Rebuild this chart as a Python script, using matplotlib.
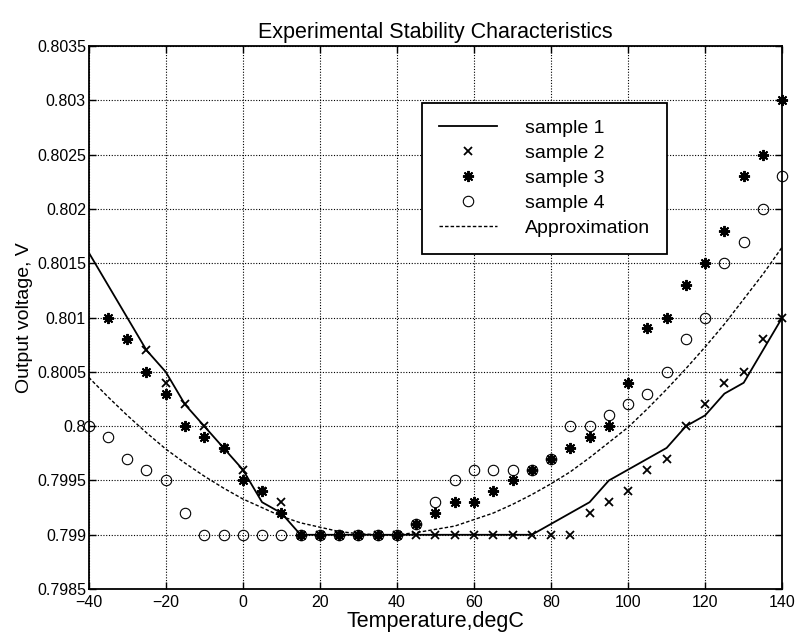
import matplotlib
matplotlib.use("Agg")
import matplotlib.pyplot as plt
from matplotlib.ticker import FuncFormatter

plt.rcParams['font.family'] = ['Liberation Sans', 'DejaVu Sans']

# temperature grid, degC
temps = [-40, -35, -30, -25, -20, -15, -10, -5, 0, 5, 10, 15,
         20, 25, 30, 35, 40, 45, 50, 55, 60, 65, 70, 75,
         80, 85, 90, 95, 100, 105, 110, 115, 120, 125, 130, 135, 140]

# sample 1 (solid line), -40..140
sample1 = [0.8016, 0.8013, 0.8010, 0.8007, 0.8005, 0.8002, 0.8000, 0.7998,
           0.7996, 0.7993, 0.7992, 0.7990,
           0.7990, 0.7990, 0.7990, 0.7990, 0.7990, 0.7990, 0.7990, 0.7990,
           0.7990, 0.7990, 0.7990, 0.7990,
           0.7991, 0.7992, 0.7993, 0.7995, 0.7996, 0.7997, 0.7998, 0.8000,
           0.8001, 0.8003, 0.8004, 0.8007, 0.8010]

# sample 2 (x), -25..140
temps2 = temps[3:]
sample2 = [0.8007, 0.8004, 0.8002, 0.8000, 0.7998, 0.7996, 0.7994, 0.7993, 0.7990,
           0.7990, 0.7990, 0.7990, 0.7990, 0.7990, 0.7990, 0.7990, 0.7990,
           0.7990, 0.7990, 0.7990, 0.7990, 0.7990, 0.7990,
           0.7992, 0.7993, 0.7994, 0.7996, 0.7997, 0.8000, 0.8002, 0.8004,
           0.8005, 0.8008, 0.8010]

# sample 3 (asterisk), -35..140
temps3 = temps[1:]
sample3 = [0.8010, 0.8008, 0.8005, 0.8003, 0.8000, 0.7999, 0.7998, 0.7995,
           0.7994, 0.7992, 0.7990,
           0.7990, 0.7990, 0.7990, 0.7990, 0.7990,
           0.7991, 0.7992, 0.7993, 0.7993, 0.7994, 0.7995, 0.7996, 0.7997,
           0.7998, 0.7999, 0.8000, 0.8004, 0.8009, 0.8010, 0.8013, 0.8015,
           0.8018, 0.8023, 0.8025, 0.8030]

# sample 4 (circles), -40..140
sample4 = [0.8000, 0.7999, 0.7997, 0.7996, 0.7995, 0.7992,
           0.7990, 0.7990, 0.7990, 0.7990, 0.7990, 0.7990, 0.7990, 0.7990,
           0.7990, 0.7990, 0.7990,
           0.7991, 0.7993, 0.7995, 0.7996, 0.7996, 0.7996, 0.7996, 0.7997,
           0.8000, 0.8000, 0.8001, 0.8002, 0.8003, 0.8005, 0.8008, 0.8010,
           0.8015, 0.8017, 0.8020, 0.8023]

# approximation curve (dashed), read off every 5 degC
approx = [0.80045, 0.80027, 0.80010, 0.79994, 0.79979, 0.79966, 0.79954,
          0.79943, 0.79933, 0.79925, 0.79917, 0.79911, 0.79907, 0.79903,
          0.79901, 0.79900, 0.79900, 0.79902, 0.79905, 0.79908, 0.79914,
          0.79920, 0.79928, 0.79937, 0.79947, 0.79958, 0.79971, 0.79985,
          0.79999, 0.80016, 0.80034, 0.80053, 0.80073, 0.80094, 0.80117,
          0.80140, 0.80165]

xticks = [-40, -20, 0, 20, 40, 60, 80, 100, 120, 140]
yticks = [0.7985, 0.799, 0.7995, 0.8, 0.8005, 0.801, 0.8015, 0.802,
          0.8025, 0.803, 0.8035]

fig = plt.figure(figsize=(7.99, 6.41), dpi=100)
ax = fig.add_axes([0.111, 0.081, 0.868, 0.847])

ax.plot(temps, sample1, '-', color='black', lw=1.3, label='sample 1')
ax.plot(temps2, sample2, 'x', color='black', ms=5.5, mew=1.3, ls='none',
        label='sample 2', clip_on=False)
ax.plot(temps3, sample3, marker=(8, 2, 0), color='black', ms=8, mew=1.4,
        ls='none', label='sample 3', clip_on=False)
ax.plot(temps, sample4, 'o', mfc='none', mec='black', ms=7.5, mew=0.8,
        ls='none', label='sample 4', clip_on=False)
ax.plot(temps, approx, color='black', lw=1.0, ls=(0, (2.5, 1.5)),
        label='Approximation')

ax.set_xlim(-40, 140)
ax.set_ylim(0.7985, 0.8035)
ax.set_xticks(xticks)
ax.set_yticks(yticks)
ax.yaxis.set_major_formatter(FuncFormatter(lambda v, p: '%g' % round(v, 6)))
ax.tick_params(direction='in', top=True, right=True, length=5, width=1,
               labelsize=11.5, colors='black')
ax.tick_params(axis='x', pad=4)
ax.tick_params(axis='y', pad=2)
ax.grid(True, color='black', ls=(0, (1, 1.5)), lw=0.8)
for sp in ax.spines.values():
    sp.set_linewidth(1.3)

ax.set_title('Experimental Stability Characteristics', fontsize=15.5, pad=6)
ax.set_xlabel('Temperature,degC', fontsize=15.5, labelpad=1)
ax.set_ylabel('Output voltage, V', fontsize=14, labelpad=3)

leg = ax.legend(loc='upper left', bbox_to_anchor=(0.481, 0.895), fontsize=14,
                frameon=True, fancybox=False, framealpha=1, edgecolor='black',
                handlelength=3.0, handletextpad=1.45, labelspacing=0.38,
                borderpad=0.85, borderaxespad=0)
leg.get_frame().set_linewidth(1.3)

fig.savefig('out.png', dpi=100)
